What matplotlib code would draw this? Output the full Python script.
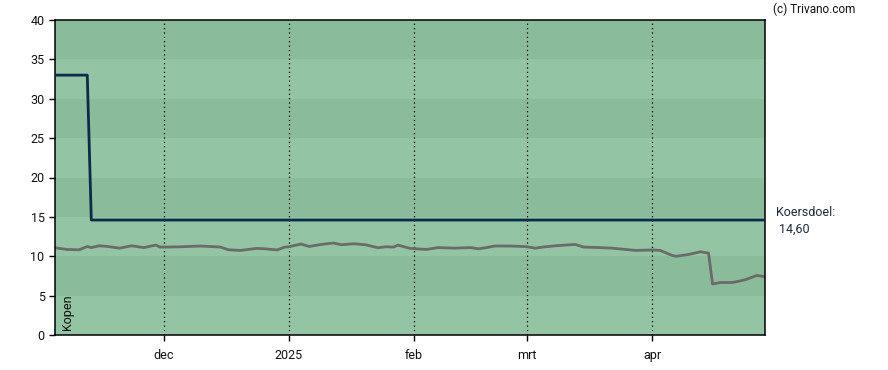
import numpy as np
import pandas as pd
import matplotlib
matplotlib.use('Agg')
import matplotlib.pyplot as plt
import matplotlib.dates as mdates

plt.rcParams['font.family'] = ['Roboto', 'DejaVu Sans']

# koers (grijze lijn)
price_dates = ['2024-11-04', '2024-11-07', '2024-11-10', '2024-11-12', '2024-11-13',
               '2024-11-15', '2024-11-17', '2024-11-20', '2024-11-23', '2024-11-26',
               '2024-11-29', '2024-11-30', '2024-12-02', '2024-12-05', '2024-12-10',
               '2024-12-15', '2024-12-17', '2024-12-20', '2024-12-24', '2024-12-26',
               '2024-12-29', '2024-12-31', '2025-01-01', '2025-01-02', '2025-01-04',
               '2025-01-06', '2025-01-09', '2025-01-12', '2025-01-14', '2025-01-17',
               '2025-01-20', '2025-01-23', '2025-01-25', '2025-01-27', '2025-01-28',
               '2025-01-31', '2025-02-04', '2025-02-07', '2025-02-11', '2025-02-15',
               '2025-02-17', '2025-02-19', '2025-02-21', '2025-02-25', '2025-02-28',
               '2025-03-01', '2025-03-03', '2025-03-05', '2025-03-08', '2025-03-13',
               '2025-03-15', '2025-03-19', '2025-03-22', '2025-03-28', '2025-04-01',
               '2025-04-03', '2025-04-06', '2025-04-07', '2025-04-10', '2025-04-13',
               '2025-04-15', '2025-04-16', '2025-04-18', '2025-04-21', '2025-04-24',
               '2025-04-27', '2025-04-29']
price_values = [11.08, 10.86, 10.82, 11.24, 11.10,
                11.33, 11.24, 11.03, 11.33, 11.10,
                11.42, 11.17, 11.17, 11.20, 11.30,
                11.17, 10.82, 10.74, 11.00, 10.95,
                10.80, 11.17, 11.20, 11.33, 11.55,
                11.24, 11.50, 11.68, 11.46, 11.59,
                11.46, 11.08, 11.20, 11.17, 11.42,
                11.00, 10.86, 11.10, 11.03, 11.10,
                10.95, 11.10, 11.30, 11.30, 11.24,
                11.20, 11.03, 11.17, 11.33, 11.50,
                11.17, 11.10, 11.03, 10.74, 10.80,
                10.74, 10.10, 10.00, 10.22, 10.57,
                10.40, 6.47, 6.67, 6.67, 7.00,
                7.56, 7.40]

# koersdoel (blauwe lijn)
target_dates = ['2024-11-04', '2024-11-12', '2024-11-13', '2025-04-29']
target_values = [33.0, 33.0, 14.6, 14.6]

month_ticks = ['2024-12-01', '2025-01-01', '2025-02-01', '2025-03-01', '2025-04-01']
month_labels = ['dec', '2025', 'feb', 'mrt', 'apr']

fig = plt.figure(figsize=(8.88, 3.70), dpi=100)
ax = fig.add_axes([55 / 888, 35 / 370, 710 / 888, 315 / 370])

# achtergrond banden
dark = '#8abb9b'
light = '#93c4a3'
for i, lo in enumerate(range(0, 40, 5)):
    ax.axhspan(lo, lo + 5, color=light if i % 2 == 0 else dark, zorder=0, lw=0)

xt = pd.to_datetime(month_ticks)
for t in xt:
    ax.axvline(t, color='black', ls=(0, (1, 2.5)), lw=0.9, zorder=1)

ax.plot(pd.to_datetime(price_dates), price_values, color='#6b6b6b', lw=2, zorder=2)
ax.plot(pd.to_datetime(target_dates), target_values, color='#0c2b4b', lw=2, zorder=3)

ax.set_xlim(pd.Timestamp('2024-11-04'), pd.Timestamp('2025-04-29'))
ax.set_ylim(0, 40)
ax.set_yticks(range(0, 41, 5))
ax.set_xticks(xt)
ax.set_xticklabels(month_labels)
ax.tick_params(axis='both', labelsize=9, length=4, width=1, color='black', labelcolor='#111111')
ax.tick_params(axis='x', pad=6)
for s in ax.spines.values():
    s.set_linewidth(1.1)
    s.set_color('black')

ax.text(0.009, 0.015, 'Kopen', rotation=90, transform=ax.transAxes, fontsize=9,
        va='bottom', ha='left', color='#111111')

fig.text(776 / 888, 1 - 212 / 370, 'Koersdoel:', fontsize=9, color='#1b2a3a', va='center', ha='left')
fig.text(779 / 888, 1 - 229 / 370, '14,60', fontsize=9, color='#1b2a3a', va='center', ha='left')
fig.text(773 / 888, 1 - 9 / 370, '(c) Trivano.com', fontsize=8.5, color='#111111', va='center', ha='left')

fig.savefig('out.png', dpi=100)
